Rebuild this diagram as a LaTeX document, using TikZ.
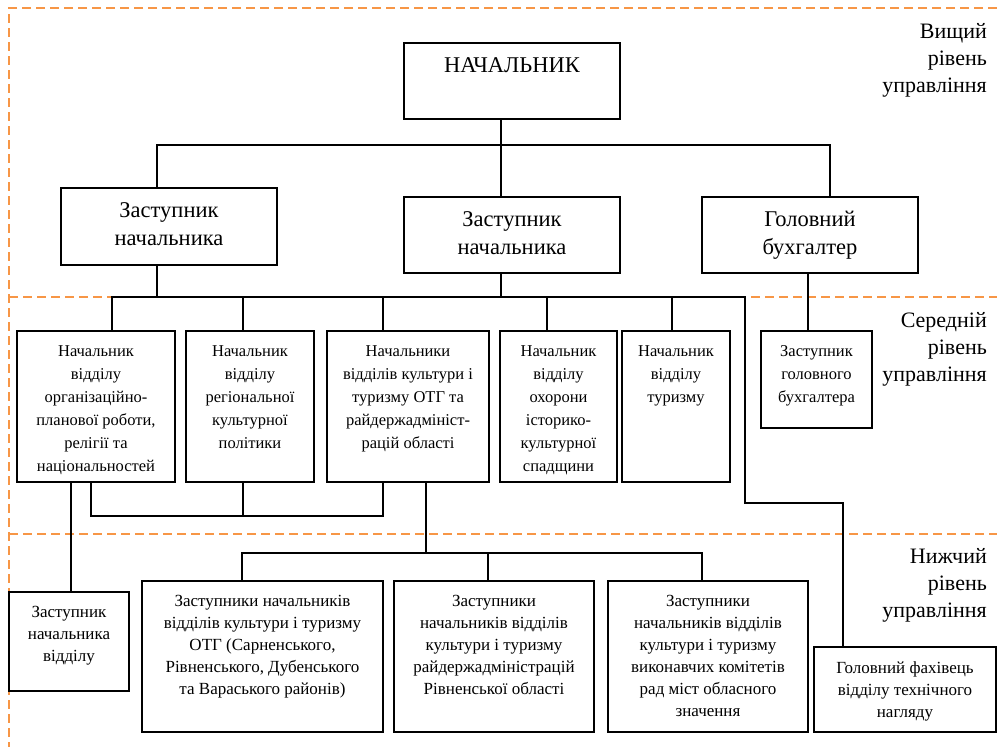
\documentclass[tikz,border=0pt]{standalone}
\usepackage{fontspec}
\setmainfont{Liberation Serif}
\usetikzlibrary{positioning}
\definecolor{lvlorange}{RGB}{247,150,70}

\begin{document}
\begin{tikzpicture}[
    x=1pt, y=-1pt,
    % Styles
    level_line/.style={draw=lvlorange, line width=1.4pt, dash pattern=on 9pt off 5pt},
    unit_box/.style={draw, line width=1.1pt, anchor=north west, inner sep=0pt, outer sep=0pt},
    big_txt/.style={anchor=north, yshift=-14pt, inner sep=0pt, align=center, font=\fontsize{22.5}{28}\selectfont},
    mid_txt/.style={anchor=north, yshift=-14pt, inner sep=0pt, align=center, font=\fontsize{16.5}{23}\selectfont},
    low_txt/.style={anchor=north, yshift=-14pt, inner sep=0pt, align=center, font=\fontsize{17}{22}\selectfont},
    level_txt/.style={anchor=north east, inner sep=0pt, align=right, font=\fontsize{22}{27}\selectfont},
    link/.style={line width=1.1pt}
]
\useasboundingbox (0,0) rectangle (997,747);

% 1. Management levels
\draw[level_line] (997,8) -- (9,8) -- (9,747);
\draw[level_line] (9,297) -- (997,297);
\draw[level_line] (9,534) -- (997,534);

\node[level_txt] (lvl_top) at (987,23) {Вищий\\рівень\\управління};
\node[level_txt] (lvl_mid) at (987,312) {Середній\\рівень\\управління};
\node[level_txt] (lvl_low) at (987,548) {Нижчий\\рівень\\управління};

% 2. Top level
\node[unit_box, minimum width=216pt, minimum height=76pt,
      label={[big_txt]north:{НАЧАЛЬНИК}}] (chief) at (404,43) {};
\node[unit_box, minimum width=216pt, minimum height=77pt,
      label={[big_txt]north:{Заступник\\начальника}}] (dep1) at (61,188) {};
\node[unit_box, minimum width=216pt, minimum height=76pt,
      label={[big_txt]north:{Заступник\\начальника}}] (dep2) at (404,197) {};
\node[unit_box, minimum width=216pt, minimum height=76pt,
      label={[big_txt]north:{Головний\\бухгалтер}}] (acc) at (702,197) {};

% 3. Middle level
\node[unit_box, minimum width=158pt, minimum height=151pt,
      label={[mid_txt]north:{Начальник\\відділу\\організаційно-\\планової роботи,\\релігії та\\національностей}}] (m1) at (17,331) {};
\node[unit_box, minimum width=128pt, minimum height=151pt,
      label={[mid_txt]north:{Начальник\\відділу\\регіональної\\культурної\\політики}}] (m2) at (186,331) {};
\node[unit_box, minimum width=162pt, minimum height=151pt,
      label={[mid_txt]north:{Начальники\\відділів культури і\\туризму ОТГ та\\райдержадмініст-\\рацій області}}] (m3) at (327,331) {};
\node[unit_box, minimum width=117pt, minimum height=151pt,
      label={[mid_txt]north:{Начальник\\відділу\\охорони\\історико-\\культурної\\спадщини}}] (m4) at (500,331) {};
\node[unit_box, minimum width=108pt, minimum height=151pt,
      label={[mid_txt]north:{Начальник\\відділу\\туризму}}] (m5) at (622,331) {};
\node[unit_box, minimum width=111pt, minimum height=97pt,
      label={[mid_txt]north:{Заступник\\головного\\бухгалтера}}] (m6) at (761,331) {};

% 4. Lower level
\node[unit_box, minimum width=120pt, minimum height=99pt,
      label={[low_txt]north:{Заступник\\начальника\\відділу}}] (b0) at (9,592) {};
\node[unit_box, minimum width=241pt, minimum height=151pt,
      label={[low_txt]north:{Заступники начальників\\відділів культури і туризму\\ОТГ (Сарненського,\\Рівненського, Дубенського\\та Вараського районів)}}] (b1) at (142,581) {};
\node[unit_box, minimum width=200pt, minimum height=151pt,
      label={[low_txt]north:{Заступники\\начальників відділів\\культури і туризму\\райдержадміністрацій\\Рівненської області}}] (b2) at (394,581) {};
\node[unit_box, minimum width=200pt, minimum height=151pt,
      label={[low_txt]north:{Заступники\\начальників відділів\\культури і туризму\\виконавчих комітетів\\рад міст обласного\\значення}}] (b3) at (608,581) {};
\node[unit_box, minimum width=182pt, minimum height=85pt,
      label={[low_txt]north:{Головний фахівець\\відділу технічного\\нагляду}}] (b4) at (814,647) {};

% Connectors
\coordinate (top_bar) at (0,145);
\coordinate (mid_bar) at (0,297);
\coordinate (grp_bar) at (0,516);
\coordinate (low_bar) at (0,553);

\draw[link] ([xshift=-11pt]chief.south) -- ([xshift=-11pt]dep2.north);
\draw[link] ([xshift=-12pt]dep1.north) |- ([xshift=20pt]acc.north |- top_bar) -- ([xshift=20pt]acc.north);

\draw[link] ([xshift=-12pt]dep1.south) -- ([xshift=-12pt]dep1.south |- mid_bar);
\draw[link] ([xshift=-11pt]dep2.south) -- ([xshift=-11pt]dep2.south |- mid_bar);
\draw[link] ([xshift=16pt]m1.north) |- (745,297) -- (745,503) -| ([xshift=-62pt]b4.north);
\foreach \unit/\dx in {m2/-7, m3/-25, m4/-11.5, m5/-4}
    \draw[link] ([xshift=\dx pt]\unit.north) -- ([xshift=\dx pt]\unit.north |- mid_bar);
\draw[link] ([xshift=-2pt]acc.south) -- ([xshift=-2pt]acc.south |- m6.north);

\draw[link] ([xshift=-5pt]m1.south) |- ([xshift=-25pt]m3.south |- grp_bar) -- ([xshift=-25pt]m3.south);
\draw[link] ([xshift=-7pt]m2.south) -- ([xshift=-7pt]m2.south |- grp_bar);
\draw[link] ([xshift=-25pt]m1.south) -- ([xshift=-25pt]m1.south |- b0.north);

\draw[link] ([xshift=18pt]m3.south) -- ([xshift=18pt]m3.south |- low_bar);
\draw[link] ([xshift=-20.5pt]b1.north) |- ([xshift=-6pt]b3.north |- low_bar) -- ([xshift=-6pt]b3.north);
\draw[link] ([xshift=-6pt]b2.north) -- ([xshift=-6pt]b2.north |- low_bar);

\end{tikzpicture}
\end{document}
